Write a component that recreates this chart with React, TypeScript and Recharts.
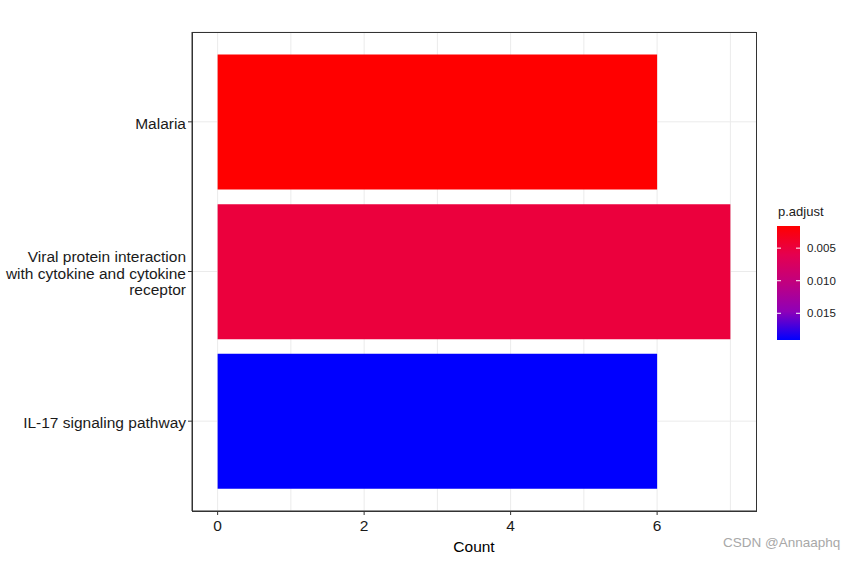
import React from 'react';
import { BarChart, Bar, XAxis, YAxis, CartesianGrid, Cell } from 'recharts';

// pathway terms, bottom to top as in the plot
const terms = ['IL-17 signaling pathway', 'Viral protein interaction with cytokine and cytokine receptor', 'Malaria'];
const termLines = [['IL-17 signaling pathway'], ['Viral protein interaction', 'with cytokine and cytokine', 'receptor'], ['Malaria']];
const counts = [6, 7, 6];
const pAdjust = [0.0191, 0.005, 0.0016];

const xTicks = [0, 2, 4, 6];
const xGridLines = [0, 1, 2, 3, 4, 5, 6, 7];
const xDomain = [-0.35, 7.35];
const legendTicks = [0.005, 0.01, 0.015];

const FONT = '"Liberation Sans", Arial, sans-serif';

const W = 853;
const H = 561;
const M = { top: 32, right: 97, bottom: 0, left: 0 };
const Y_W = 192;
const X_H = 50;

// red -> blue, roughly the Lab blend ggplot uses
const stops: [number, number, number][] = [
  [255, 0, 0],
  [229, 0, 79],
  [192, 0, 128],
  [143, 0, 184],
  [0, 0, 255],
];

const pMin = Math.min(...pAdjust);
const pMax = Math.max(...pAdjust);

function colorFor(p: number) {
  const t = Math.min(1, Math.max(0, (p - pMin) / (pMax - pMin)));
  const pos = t * (stops.length - 1);
  const i = Math.min(stops.length - 2, Math.floor(pos));
  const f = pos - i;
  const c = stops[i].map((v, k) => Math.round(v + (stops[i + 1][k] - v) * f));
  return `rgb(${c[0]},${c[1]},${c[2]})`;
}

// chart rows, top of the axis = last category
const data = terms.map((t, i) => ({ term: t, count: counts[i], p: pAdjust[i] })).reverse();

const YTick = (props: any) => {
  const { x, y, payload } = props;
  const idx = terms.indexOf(payload.value);
  const lines = termLines[idx] || [payload.value];
  const lh = 16.5;
  const start = y + 1 - ((lines.length - 1) * lh) / 2;
  return (
    <text x={x} y={start} textAnchor="end" fontSize={15.5} fontFamily={FONT} fill="#1a1a1a" dominantBaseline="central">
      {lines.map((l: string, k: number) => (
        <tspan key={k} x={x} y={start + k * lh}>{l}</tspan>
      ))}
    </text>
  );
};

const BAR_TOP = 226;
const BAR_H = 114;

const Legend = () => (
  <div style={{ position: 'absolute', left: 776, top: 204, fontFamily: FONT }}>
    <div style={{ fontSize: 13, color: '#1a1a1a', marginLeft: 2 }}>p.adjust</div>
    <svg width={77} height={BAR_H + 4} style={{ position: 'absolute', left: 0, top: BAR_TOP - 204 }}>
      <defs>
        <linearGradient id="pg" x1="0" y1="0" x2="0" y2="1">
          {stops.map((s, i) => (
            <stop key={i} offset={i / (stops.length - 1)} stopColor={`rgb(${s[0]},${s[1]},${s[2]})`} />
          ))}
        </linearGradient>
      </defs>
      <rect x={1} y={0} width={23} height={BAR_H} fill="url(#pg)" />
      {legendTicks.map((v) => {
        const yy = ((v - pMin) / (pMax - pMin)) * BAR_H;
        return (
          <g key={v}>
            <line x1={1} x2={5} y1={yy} y2={yy} stroke="#fff" strokeWidth={1} />
            <line x1={20} x2={24} y1={yy} y2={yy} stroke="#fff" strokeWidth={1} />
            <text x={31} y={yy} fontSize={11.5} fill="#1a1a1a" dominantBaseline="central" fontFamily={FONT}>
              {v.toFixed(3)}
            </text>
          </g>
        );
      })}
    </svg>
  </div>
);

export default function App() {
  const plotW = W - M.left - M.right - Y_W;
  const plotH = H - M.top - M.bottom - X_H;
  const plotLeft = M.left + Y_W;
  const gridX = () =>
    xGridLines.map((v) => plotLeft + ((v - xDomain[0]) / (xDomain[1] - xDomain[0])) * plotW);
  return (
    <div style={{ position: 'absolute', left: 0, top: 0, width: W, height: H, background: '#fff' }}>
      <BarChart width={W} height={H} data={data} layout="vertical" margin={M} barCategoryGap="5%">
        <CartesianGrid stroke="#ebebeb" strokeWidth={1} verticalCoordinatesGenerator={gridX} />
        <XAxis
          type="number"
          dataKey="count"
          domain={xDomain}
          ticks={xTicks}
          allowDataOverflow
          tickSize={4}
          tickMargin={5}
          tickLine={{ stroke: '#333' }}
          axisLine={{ stroke: '#333' }}
          tick={{ fontSize: 15.5, fill: '#1a1a1a', fontFamily: FONT }}
          label={{ value: 'Count', position: 'insideBottom', offset: 9, fontSize: 15.5, fill: '#000', fontFamily: FONT }}
          height={X_H}
        />
        <YAxis
          type="category"
          dataKey="term"
          width={Y_W}
          padding={{ top: 15, bottom: 15 }}
          tickSize={4}
          tickLine={{ stroke: '#333' }}
          axisLine={{ stroke: '#333' }}
          tick={<YTick />}
          interval={0}
        />
        <Bar dataKey="count" isAnimationActive={false}>
          {data.map((d, i) => (
            <Cell key={i} fill={colorFor(d.p)} />
          ))}
        </Bar>
      </BarChart>
      {/* panel border */}
      <div
        style={{
          position: 'absolute',
          left: plotLeft - 0.5,
          top: M.top - 0.5,
          width: plotW + 1,
          height: plotH + 1,
          border: '1.2px solid #333',
          boxSizing: 'border-box',
          pointerEvents: 'none',
        }}
      />
      <Legend />
      <div style={{ position: 'absolute', left: 723, top: 535, fontSize: 13.5, color: '#a8a8a8', fontFamily: FONT }}>
        CSDN @Annaaphq
      </div>
    </div>
  );
}
